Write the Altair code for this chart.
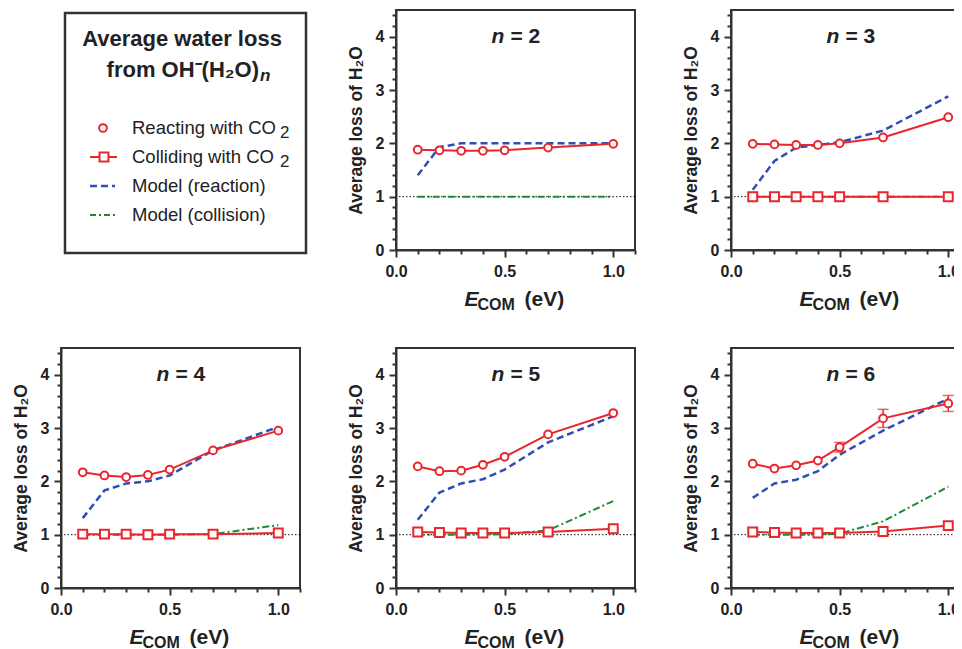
import altair as alt
import pandas as pd

# ---------------- data ----------------
E = [0.1, 0.2, 0.3, 0.4, 0.5, 0.7, 1.0]
N_PANELS = [2, 3, 4, 5, 6]

react = {
    2: [1.88, 1.87, 1.86, 1.86, 1.87, 1.92, 1.99],
    3: [1.99, 1.98, 1.97, 1.97, 2.00, 2.11, 2.49],
    4: [2.17, 2.11, 2.08, 2.12, 2.22, 2.58, 2.95],
    5: [2.28, 2.19, 2.20, 2.31, 2.46, 2.88, 3.28],
    6: [2.33, 2.24, 2.30, 2.39, 2.64, 3.18, 3.46],
}
react_err_n6 = [0.03, 0.03, 0.03, 0.03, 0.09, 0.17, 0.15]

coll = {
    3: [1.00, 1.00, 1.00, 1.00, 1.00, 1.00, 1.00],
    4: [1.01, 1.01, 1.01, 1.00, 1.01, 1.01, 1.03],
    5: [1.05, 1.04, 1.03, 1.03, 1.03, 1.05, 1.11],
    6: [1.05, 1.04, 1.03, 1.03, 1.03, 1.06, 1.17],
}

model_r = {
    2: [1.40, 1.93, 2.00, 2.00, 2.00, 2.00, 2.00],
    3: [1.13, 1.67, 1.92, 1.97, 2.02, 2.24, 2.88],
    4: [1.31, 1.83, 1.96, 2.00, 2.11, 2.58, 3.02],
    5: [1.28, 1.79, 1.96, 2.04, 2.22, 2.73, 3.22],
    6: [1.69, 1.96, 2.03, 2.19, 2.50, 2.95, 3.55],
}

model_c = {
    2: [1.00, 1.00, 1.00, 1.00, 1.00, 1.00, 1.00],
    3: [1.00, 1.00, 1.00, 1.00, 1.00, 1.00, 1.00],
    4: [1.00, 1.00, 1.00, 1.00, 1.00, 1.01, 1.18],
    5: [1.00, 1.00, 1.00, 1.00, 1.01, 1.08, 1.63],
    6: [1.00, 1.00, 1.00, 1.00, 1.02, 1.25, 1.90],
}

XTICKS = [round(i * 0.1, 1) for i in range(12)]
YTICKS = [round(i * 0.2, 1) for i in range(23)]
REF_LEVEL = [1.0]

legend_labels = ["Reacting with CO", "Colliding with CO", "Model (reaction)", "Model (collision)"]
legend_subs = ["2", "2", "", ""]

# ---------------- build tables ----------------
rows = []
for n in N_PANELS:
    for i, e in enumerate(E):
        err = react_err_n6[i] if n == 6 else 0.0
        rows.append(dict(n=n, E=e, series="react", v=react[n][i], lo=react[n][i] - err, hi=react[n][i] + err, err=err))
        if n in coll:
            rows.append(dict(n=n, E=e, series="coll", v=coll[n][i], lo=coll[n][i], hi=coll[n][i], err=0.0))
        rows.append(dict(n=n, E=e, series="model_r", v=model_r[n][i], lo=model_r[n][i], hi=model_r[n][i], err=0.0))
        rows.append(dict(n=n, E=e, series="model_c", v=model_c[n][i], lo=model_c[n][i], hi=model_c[n][i], err=0.0))
df = pd.DataFrame(rows)

ref_df = pd.DataFrame({"y": REF_LEVEL})
leg_df = pd.DataFrame({"row": list(range(len(legend_labels))), "label": legend_labels, "sub": legend_subs})

# ---------------- styles ----------------
FONT = "Liberation Sans"
RED = "#e8262c"
BLUE = "#2f4fb2"
GREEN = "#1e8a34"
INK = "#222222"
W, H = 239, 240

MAJ_X = "abs(datum.value*2 - round(datum.value*2)) < 0.001"
MAJ_Y = "abs(datum.value - round(datum.value)) < 0.001"

xscale = alt.Scale(domain=[0, 1.1], nice=False, zero=False)
yscale = alt.Scale(domain=[0, 4.5], nice=False)

xaxis = alt.Axis(
    values=XTICKS, title=None, grid=False,
    labelExpr=f"{MAJ_X} ? format(datum.value, '.1f') : ''",
    tickSize={"condition": {"test": MAJ_X, "value": 7}, "value": 4},
    tickWidth=2, tickColor="#333", domainColor="#333", domainWidth=2,
    labelFont=FONT, labelFontSize=16, labelFontWeight="bold", labelColor=INK,
    labelPadding=6, labelOverlap=False, labelFlush=False,
)
yaxis = alt.Axis(
    values=YTICKS, grid=False, title="Average loss of H\u2082O",
    labelExpr=f"{MAJ_Y} ? format(datum.value, 'd') : ''",
    tickSize={"condition": {"test": MAJ_Y, "value": 7}, "value": 4},
    tickWidth=2, tickColor="#333", domainColor="#333", domainWidth=2,
    labelFont=FONT, labelFontSize=16, labelFontWeight="bold", labelColor=INK,
    labelPadding=5, labelOverlap=False, labelFlush=False,
    titleFont=FONT, titleFontSize=17.5, titleFontWeight="bold", titleColor=INK,
    titlePadding=10,
)


def X(field="E"):
    return alt.X(f"{field}:Q", scale=xscale, axis=xaxis)


def Y(field="v"):
    return alt.Y(f"{field}:Q", scale=yscale, axis=yaxis)


def panel(n):
    base = alt.Chart(df).transform_filter(alt.datum.n == n)
    ref = alt.Chart(ref_df).mark_rule(color="#111", strokeWidth=1, strokeDash=[1.5, 2]).encode(y=Y("y"))
    green = base.transform_filter(alt.datum.series == "model_c").mark_line(
        color=GREEN, strokeWidth=2, strokeDash=[7, 3, 2, 3]).encode(x=X(), y=Y())
    blue = base.transform_filter(alt.datum.series == "model_r").mark_line(
        color=BLUE, strokeWidth=2.5, strokeDash=[7, 4]).encode(x=X(), y=Y())
    red = base.transform_filter((alt.datum.series == "react") | (alt.datum.series == "coll")).mark_line(
        color=RED, strokeWidth=2).encode(x=X(), y=Y(), detail="series:N")
    errs = base.transform_filter((alt.datum.series == "react") & (alt.datum.err > 0.05))
    err_rule = errs.mark_rule(color=RED, strokeWidth=1.5).encode(x=X(), y=Y("lo"), y2="hi:Q")
    cap_lo = errs.mark_tick(color=RED, orient="horizontal", size=11, thickness=1.5).encode(x=X(), y=Y("lo"))
    cap_hi = errs.mark_tick(color=RED, orient="horizontal", size=11, thickness=1.5).encode(x=X(), y=Y("hi"))
    circ = base.transform_filter(alt.datum.series == "react").mark_point(
        shape="circle", size=60, fill="white", stroke=RED, strokeWidth=2, opacity=1, fillOpacity=1).encode(x=X(), y=Y())
    sq = base.transform_filter(alt.datum.series == "coll").mark_point(
        shape="square", size=80, fill="white", stroke=RED, strokeWidth=2, opacity=1, fillOpacity=1).encode(x=X(), y=Y())

    one = alt.Chart(pd.DataFrame({"n": [n]}))
    cx = W / 2
    t_n = one.mark_text(text="n", font=FONT, fontSize=21, fontWeight="bold", fontStyle="italic",
                        align="left", baseline="alphabetic", color=INK).encode(
        x=alt.value(cx - 24), y=alt.value(33))
    t_eq = one.transform_calculate(lbl="'= ' + datum.n").mark_text(
        font=FONT, fontSize=21, fontWeight="bold", align="left", baseline="alphabetic", color=INK).encode(
        x=alt.value(cx - 5), y=alt.value(33), text="lbl:N")
    xt_e = one.mark_text(text="E", font=FONT, fontSize=21, fontWeight="bold", fontStyle="italic",
                         align="left", baseline="alphabetic", color=INK).encode(
        x=alt.value(cx - 51), y=alt.value(H + 56))
    xt_com = one.mark_text(text="COM", font=FONT, fontSize=16, fontWeight="bold",
                           align="left", baseline="alphabetic", color=INK).encode(
        x=alt.value(cx - 38), y=alt.value(H + 60))
    xt_ev = one.mark_text(text="(eV)", font=FONT, fontSize=21, fontWeight="bold",
                          align="left", baseline="alphabetic", color=INK).encode(
        x=alt.value(cx + 9), y=alt.value(H + 56))

    layers = [ref, green, blue, red]
    if n == 6:
        layers += [err_rule, cap_lo, cap_hi]
    layers += [circ]
    if n in coll:
        layers += [sq]
    layers += [t_n, t_eq, xt_e, xt_com, xt_ev]
    return alt.layer(*layers).properties(width=W, height=H)


def legend_panel():
    yrow = alt.Y("row:Q", scale=alt.Scale(domain=[0, 3], range=[118, 205]), axis=None)
    lg = alt.Chart(leg_df)
    one = alt.Chart(pd.DataFrame({"k": [0]}))
    box = one.mark_rect(filled=False, stroke="#333", strokeWidth=2.5).encode(
        x=alt.value(4), x2=alt.value(245), y=alt.value(3), y2=alt.value(243))
    t1 = one.mark_text(text="Average water loss", font=FONT, fontSize=22, fontWeight="bold",
                       align="center", baseline="alphabetic", color=INK).encode(x=alt.value(121), y=alt.value(36))
    t2 = one.mark_text(text="from OH\u207b(H\u2082O)", font=FONT, fontSize=22, fontWeight="bold",
                       align="right", baseline="alphabetic", color=INK).encode(x=alt.value(198), y=alt.value(67))
    t3 = one.mark_text(text="n", font=FONT, fontSize=17, fontWeight="bold", fontStyle="italic",
                       align="left", baseline="alphabetic", color=INK).encode(x=alt.value(199), y=alt.value(71))
    labels = lg.mark_text(font=FONT, fontSize=18.5, align="left", baseline="middle", color=INK).encode(
        x=alt.value(71), y=yrow, text="label:N")
    subs = lg.mark_text(font=FONT, fontSize=17, align="left", baseline="middle", dy=5, color=INK).encode(
        x=alt.value(219), y=yrow, text="sub:N")
    s_circ = lg.transform_filter(alt.datum.row == 0).mark_point(
        shape="circle", size=60, fill="white", stroke=RED, strokeWidth=2, opacity=1).encode(x=alt.value(42), y=yrow)
    s_line = lg.transform_filter(alt.datum.row == 1).mark_rule(color=RED, strokeWidth=2).encode(
        x=alt.value(29), x2=alt.value(56), y=yrow)
    s_sq = lg.transform_filter(alt.datum.row == 1).mark_point(
        shape="square", size=80, fill="white", stroke=RED, strokeWidth=2, opacity=1).encode(x=alt.value(43), y=yrow)
    s_blue = lg.transform_filter(alt.datum.row == 2).mark_rule(color=BLUE, strokeWidth=2.5, strokeDash=[7, 4]).encode(
        x=alt.value(29), x2=alt.value(54), y=yrow)
    s_green = lg.transform_filter(alt.datum.row == 3).mark_rule(color=GREEN, strokeWidth=2, strokeDash=[6, 3, 2, 3]).encode(
        x=alt.value(29), x2=alt.value(54), y=yrow)
    return alt.layer(box, t1, t2, t3, s_circ, s_line, s_sq, s_blue, s_green, labels, subs).properties(
        width=W, height=H, view=alt.ViewBackground(stroke="transparent"))


chart = alt.concat(
    legend_panel(), panel(2), panel(3), panel(4), panel(5), panel(6),
    columns=3, spacing={"row": 98, "column": 96}, bounds="flush",
).properties(
    padding={"left": 3, "top": -2, "right": -18, "bottom": 0},
    background="white",
).configure_view(stroke="#333", strokeWidth=2)

chart.save("out.html", embed_options={"renderer": "svg", "actions": False})
